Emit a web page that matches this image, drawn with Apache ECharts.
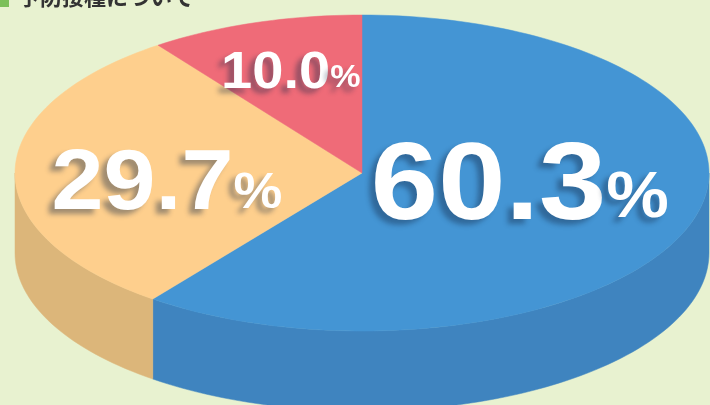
<!DOCTYPE html>
<html>
<head>
<meta charset="utf-8">
<style>
  html, body { margin: 0; padding: 0; background: #e8f2d0; }
  #chart { width: 710px; height: 405px; }
</style>
<script src="https://cdn.jsdelivr.net/npm/echarts@6/dist/echarts.min.js"></script>
</head>
<body>
<div id="chart"></div>
<script>
(function(window, echarts){
    'use strict';

    // data
    var titleText = '予防接種について';
    var sliceNames = ['slice1', 'slice2', 'slice3'];
    var shares = [60.3, 29.7, 10.0];

    // look
    var topColors  = ['#4495d4', '#fecf8d', '#ef6b78'];
    var sideColors = ['#3f84bf', '#dcb67a', '#d65f6b'];
    var numSizes   = [110, 85, 51];
    var pctSizes   = [64, 50, 31];
    // label centre, as a fraction of the radii from the pie centre (y up)
    var labelPos   = [[0.455, -0.03], [-0.562, -0.025], [-0.205, 0.66]];

    var cx = 362, cy = 173, rx = 347, ry = 158, depth = 80;

    var total = shares.reduce(function(a, b){ return a + b; }, 0);
    var starts = [];
    var acc = 90;
    shares.forEach(function(v){
        starts.push(acc);
        acc -= v / total * 360;
    });

    function arcPts(t0, t1, dy) {
        var pts = [];
        var n = Math.max(4, Math.ceil(Math.abs(t1 - t0) / 1.5));
        for (var k = 0; k <= n; k++) {
            var t = (t0 + (t1 - t0) * k / n) * Math.PI / 180;
            pts.push([cx + rx * Math.cos(t), cy - ry * Math.sin(t) + dy]);
        }
        return pts;
    }

    function renderItem(params, api) {
        var i = params.dataIndex;
        var a0 = starts[i];
        var a1 = a0 - api.value(0) / total * 360;
        var children = [];

        // visible side wall = part of the arc on the lower half
        for (var k = -2; k <= 1; k++) {
            var lo = -180 + 360 * k, hi = 360 * k;
            var s = Math.max(a1, lo), e = Math.min(a0, hi);
            if (s < e) {
                var up = arcPts(e, s, 0);
                var down = arcPts(s, e, depth);
                children.push({
                    type: 'polygon',
                    z2: 1,
                    shape: { points: up.concat(down) },
                    style: { fill: sideColors[i], stroke: sideColors[i], lineWidth: 0.5 }
                });
            }
        }

        children.push({
            type: 'polygon',
            z2: 5,
            shape: { points: [[cx, cy]].concat(arcPts(a0, a1, 0)) },
            style: { fill: topColors[i], stroke: topColors[i], lineWidth: 0.5 }
        });

        children.push({
            type: 'text',
            z2: 10,
            x: cx + labelPos[i][0] * rx,
            y: cy - labelPos[i][1] * ry + numSizes[i] * 0.1,
            scaleX: 1.1,
            style: {
                text: '{n|' + api.value(0).toFixed(1) + '}{p|%}',
                align: 'center',
                verticalAlign: 'middle',
                fill: '#fff',
                textShadowColor: 'rgba(20,40,70,0.4)',
                textShadowBlur: 5,
                textShadowOffsetX: -6,
                textShadowOffsetY: 5,
                rich: {
                    n: {
                        fontSize: numSizes[i], fontWeight: 'bold',
                        fontFamily: 'Liberation Sans, Arial, sans-serif',
                        fill: '#fff', verticalAlign: 'bottom'
                    },
                    p: {
                        fontSize: pctSizes[i], fontWeight: 'bold',
                        fontFamily: 'Liberation Sans, Arial, sans-serif',
                        fill: '#fff', verticalAlign: 'bottom',
                        padding: [0, 0, Math.round((numSizes[i] - pctSizes[i]) * 0.26), 0]
                    }
                }
            }
        });

        return { type: 'group', children: children };
    }

    var chart = echarts.init(document.getElementById('chart'));
    chart.setOption({
        backgroundColor: '#e8f2d0',
        animation: false,
        graphic: [
            { type: 'rect', left: 0, top: -12, shape: { width: 9, height: 19 }, style: { fill: '#7cc05a' } },
            { type: 'text', left: 18, top: -14,
              style: { text: titleText, fontSize: 22, fontWeight: 'bold', fill: '#333',
                       fontFamily: 'Noto Sans CJK JP' } }
        ],
        series: [{
            type: 'custom',
            coordinateSystem: 'none',
            renderItem: renderItem,
            data: shares.map(function(v, i){ return { name: sliceNames[i], value: [v] }; })
        }]
    });

})(window, window.echarts);
</script>
</body>
</html>
